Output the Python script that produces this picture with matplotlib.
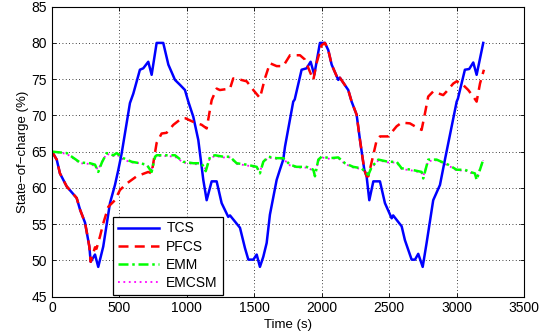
#!/usr/bin/env python3

import matplotlib
matplotlib.use("Agg")
import matplotlib.pyplot as plt

plt.rcParams['font.family'] = ['Liberation Sans', 'DejaVu Sans']

# time (s) and state-of-charge (%)
tcs_t = [0, 35, 59, 109, 183, 208, 245, 277, 287, 319, 343, 380, 430, 467, 492,
         517, 578, 603, 652, 677, 714, 739, 776, 825, 863, 912, 950, 986, 1011,
         1048, 1085, 1110, 1122, 1147, 1184, 1221, 1258, 1307, 1320, 1394, 1431,
         1456, 1493, 1518, 1542, 1567, 1592, 1616, 1666, 1690, 1715, 1728, 1789,
         1800, 1851, 1888, 1918, 1945, 1987, 2024, 2049, 2074, 2123, 2135, 2197,
         2222, 2259, 2284, 2316, 2333, 2353, 2383, 2432, 2469, 2519, 2530, 2593,
         2617, 2667, 2692, 2716, 2749, 2778, 2827, 2877, 2914, 3001, 3010, 3062,
         3094, 3124, 3149, 3198]
tcs_soc = [65.0, 63.9, 62.0, 60.2, 58.6, 57.0, 55.2, 51.9, 49.8, 50.8, 49.1, 51.9,
           57.9, 60.4, 62.5, 64.8, 71.7, 73.0, 76.3, 76.5, 77.4, 75.6, 80.0, 80.0,
           77.0, 74.9, 74.2, 73.5, 71.9, 69.8, 66.6, 62.9, 61.1, 58.3, 60.9, 60.9,
           57.9, 56.0, 56.2, 54.5, 51.7, 50.1, 50.1, 50.8, 49.1, 50.5, 52.4, 56.3,
           61.1, 62.5, 63.9, 65.7, 71.9, 72.2, 76.3, 76.5, 77.4, 75.6, 80.0, 80.0,
           79.0, 77.0, 74.9, 75.2, 73.5, 71.9, 70.1, 66.6, 62.5, 61.6, 58.3, 60.9,
           60.9, 57.9, 55.8, 56.2, 54.7, 52.8, 50.1, 50.1, 50.9, 49.1, 52.4, 58.3,
           60.4, 63.9, 71.9, 72.3, 76.3, 76.4, 77.3, 75.6, 80.0]

pfcs_t = [0, 35, 59, 109, 183, 208, 245, 277, 287, 319, 330, 356, 380, 418, 467,
          504, 554, 628, 714, 739, 751, 776, 813, 850, 900, 962, 990, 1048, 1110,
          1147, 1184, 1221, 1245, 1320, 1344, 1382, 1444, 1493, 1542, 1579, 1616,
          1666, 1715, 1765, 1839, 1876, 1913, 1938, 1962, 2000, 2024, 2049, 2074,
          2123, 2135, 2197, 2222, 2259, 2284, 2316, 2333, 2346, 2371, 2408, 2432,
          2494, 2556, 2593, 2654, 2700, 2741, 2766, 2790, 2827, 2901, 2926, 2976,
          3001, 3038, 3087, 3124, 3149, 3174, 3203]
pfcs_soc = [65.0, 63.9, 62.0, 60.2, 58.6, 57.0, 55.2, 51.9, 49.8, 51.8, 51.6, 53.3,
            55.1, 57.4, 58.3, 59.7, 60.6, 61.6, 62.2, 62.0, 63.4, 66.2, 67.5, 67.6,
            68.7, 69.6, 69.6, 69.1, 68.7, 68.2, 72.1, 73.7, 73.5, 73.7, 75.1, 75.0,
            74.7, 73.5, 72.4, 75.1, 77.2, 76.8, 76.8, 78.3, 78.3, 77.7, 76.0, 74.9,
            77.2, 79.7, 80.0, 79.0, 77.0, 74.9, 75.2, 73.5, 71.9, 70.1, 66.6, 62.5,
            61.6, 61.6, 63.6, 66.6, 67.1, 67.1, 68.5, 69.0, 68.9, 68.4, 68.0, 70.3,
            72.6, 73.3, 72.8, 73.3, 74.4, 74.7, 74.4, 73.5, 72.6, 71.9, 74.4, 76.3]

emm_t = [0, 109, 208, 282, 319, 343, 370, 405, 455, 480, 529, 591, 652, 702, 739,
         764, 776, 850, 912, 974, 1048, 1110, 1140, 1172, 1209, 1270, 1320, 1369,
         1444, 1518, 1542, 1567, 1604, 1666, 1715, 1765, 1814, 1888, 1938, 1950,
         1975, 2000, 2061, 2123, 2173, 2234, 2296, 2346, 2371, 2420, 2494, 2556,
         2593, 2667, 2741, 2753, 2790, 2852, 2889, 2938, 3001, 3062, 3100, 3136,
         3149, 3198]
emm_soc = [65.0, 64.8, 63.5, 63.4, 63.2, 62.2, 63.5, 64.8, 64.5, 64.8, 64.1, 63.6,
           63.4, 63.2, 62.2, 64.3, 64.5, 64.5, 64.5, 63.6, 63.4, 63.4, 62.3, 64.3,
           64.5, 64.3, 64.3, 63.4, 63.2, 62.9, 62.0, 63.6, 64.3, 64.1, 64.1, 63.2,
           62.9, 62.9, 62.5, 61.6, 63.9, 64.3, 64.1, 64.2, 63.4, 62.9, 62.7, 61.8,
           62.9, 63.9, 63.6, 63.6, 62.7, 62.5, 62.2, 61.3, 63.9, 63.9, 63.6, 63.2,
           62.5, 62.5, 62.2, 62.0, 61.1, 63.9]

emcsm_t = [0, 109, 208, 282, 319, 343, 370, 405, 455, 480, 529, 591, 652, 702, 739,
           764, 776, 850, 912, 974, 1048, 1110, 1140, 1172, 1209, 1270, 1320, 1369,
           1444, 1518, 1542, 1567, 1604, 1666, 1715, 1765, 1814, 1888, 1938, 1950,
           1975, 2000, 2061, 2123, 2173, 2234, 2296, 2346, 2371, 2420, 2494, 2556,
           2593, 2667, 2741, 2753, 2790, 2852, 2889, 2938, 3001, 3062, 3100, 3136,
           3149, 3198]
emcsm_soc = [65.0, 64.7, 63.4, 63.3, 63.0, 62.5, 63.6, 64.7, 64.4, 64.6, 63.9, 63.5,
             63.4, 63.1, 62.6, 64.1, 64.4, 64.4, 64.3, 63.5, 63.3, 63.2, 62.6, 64.1,
             64.4, 64.2, 64.2, 63.3, 63.1, 62.8, 62.3, 63.5, 64.2, 64.0, 64.0, 63.1,
             62.8, 62.8, 62.4, 61.9, 63.7, 64.2, 64.0, 64.1, 63.3, 62.8, 62.6, 62.0,
             62.8, 63.8, 63.5, 63.5, 62.6, 62.4, 62.1, 61.6, 63.7, 63.8, 63.5, 63.1,
             62.4, 62.4, 62.1, 61.9, 61.4, 63.8]

x_ticks = [0, 500, 1000, 1500, 2000, 2500, 3000, 3500]
y_ticks = [45, 50, 55, 60, 65, 70, 75, 80, 85]


def main():
    fig = plt.figure(figsize=(5.45, 3.34), dpi=100)
    ax = fig.add_axes([0.0954, 0.112, 0.866, 0.868])

    ax.plot(tcs_t, tcs_soc, '-', color='#0000ff', lw=1.8, label='TCS')
    ax.plot(pfcs_t, pfcs_soc, '--', color='#ff0000', lw=1.8, dashes=(4, 2.5), label='PFCS')
    ax.plot(emm_t, emm_soc, '-.', color='#00ff00', lw=1.8, dashes=(4, 1.5, 1, 1.5), label='EMM')
    ax.plot(emcsm_t, emcsm_soc, ':', color='#ff00ff', lw=1.3, dashes=(1, 2), label='EMCSM', zorder=1.9)

    ax.set_xlim(0, 3500)
    ax.set_ylim(45, 85)
    ax.set_xticks(x_ticks)
    ax.set_yticks(y_ticks)
    ax.tick_params(direction='in', top=True, right=True, labelsize=10, length=3, width=0.6)
    ax.grid(True, color='black', linestyle=(0, (1, 3)), linewidth=0.6)
    for s in ax.spines.values():
        s.set_linewidth(0.8)

    ax.set_xlabel('Time (s)', fontsize=9.5, labelpad=2.5)
    ax.set_ylabel('State\u2212of\u2212charge (%)', fontsize=9.5, labelpad=2)

    leg = ax.legend(loc='lower left', bbox_to_anchor=(0.129, 0.006), borderaxespad=0,
                    fontsize=10, fancybox=False, framealpha=1, edgecolor='black',
                    handlelength=3.0, borderpad=0.35, labelspacing=0.3, handletextpad=0.5)
    leg.get_frame().set_linewidth(0.9)

    fig.savefig('out.png', dpi=100)


if __name__ == "__main__":
    main()
